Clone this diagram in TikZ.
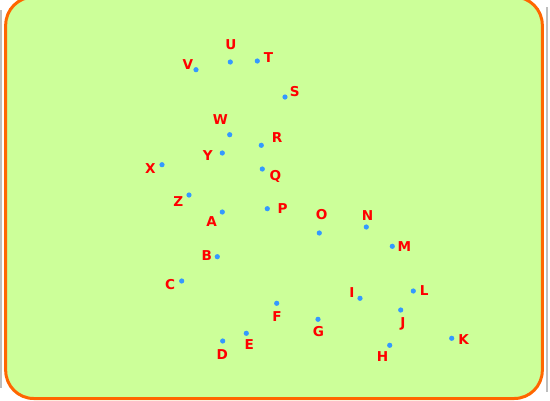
\documentclass[tikz,border=0pt]{standalone}
\usepackage{fontspec}
\setmainfont{DejaVu Sans}
\usepackage{tikz}
\definecolor{boxfill}{RGB}{204,255,153}
\definecolor{boxline}{RGB}{255,102,0}
\definecolor{dotblue}{RGB}{51,153,255}
\definecolor{edgegray}{RGB}{190,190,190}
\tikzset{
	dot/.style={circle, fill=dotblue, inner sep=0pt, minimum size=5.2pt},
	lbl/.style={text=red, font=\fontsize{13.6}{14}\selectfont\bfseries, inner sep=0pt, text height=10pt, text depth=0pt},
	frame/.style={draw=boxline, line width=3pt, fill=boxfill, rounded corners=28pt}
}
\begin{document}
\begin{tikzpicture}[x=1pt, y=-1pt]
		\useasboundingbox (0,0) rectangle (550,400);
		
		% Window edges and frame
		\draw[edgegray, line width=1.5pt] (1,10) -- (1,388);
		\draw[edgegray, line width=1.5pt] (547,7) -- (547,392);
		\draw[frame] (5.7,-3) rectangle (542.3,398.5);
		
		% Upper group
		\node[dot] (U) at (230.3,62) {};
		\node[lbl] (U-txt) at (231,44.3) {U};
		\node[dot] (T) at (257.3,61) {};
		\node[lbl] (T-txt) at (268.5,57.7) {T};
		\node[dot] (V) at (196,69.7) {};
		\node[lbl] (V-txt) at (188,64.7) {V};
		\node[dot] (S) at (285,97) {};
		\node[lbl] (S-txt) at (294.7,91.7) {S};
		\node[dot] (W) at (229.7,134.7) {};
		\node[lbl] (W-txt) at (220.3,119.3) {W};
		\node[dot] (R) at (261.3,145.3) {};
		\node[lbl] (R-txt) at (277,137.7) {R};
		\node[dot] (Y) at (222.3,153) {};
		\node[lbl] (Y-txt) at (207.7,155.7) {Y};
		\node[dot] (X) at (162,164.7) {};
		\node[lbl] (X-txt) at (150.3,168) {X};
		\node[dot] (Q) at (262.3,169) {};
		\node[lbl] (Q-txt) at (275.5,175) {Q};
		\node[dot] (Z) at (189,195) {};
		\node[lbl] (Z-txt) at (178.3,201) {Z};
		
		% Middle group
		\node[dot] (A) at (222.3,212) {};
		\node[lbl] (A-txt) at (211.7,221) {A};
		\node[dot] (P) at (267.3,208.7) {};
		\node[lbl] (P-txt) at (282.5,208.3) {P};
		\node[dot] (O) at (319.3,233) {};
		\node[lbl] (O-txt) at (321.7,214.3) {O};
		\node[dot] (N) at (366.3,227) {};
		\node[lbl] (N-txt) at (367.5,215.7) {N};
		\node[dot] (M) at (392.3,246.3) {};
		\node[lbl] (M-txt) at (404.5,246.7) {M};
		\node[dot] (B) at (217.3,256.7) {};
		\node[lbl] (B-txt) at (206.7,255) {B};
		\node[dot] (C) at (181.7,281) {};
		\node[lbl] (C-txt) at (170,284.2) {C};
		
		% Lower group
		\node[dot] (F) at (276.7,303.3) {};
		\node[lbl] (F-txt) at (277,316.7) {F};
		\node[dot] (I) at (360,298.3) {};
		\node[lbl] (I-txt) at (352,292) {I};
		\node[dot] (L) at (413.3,291) {};
		\node[lbl] (L-txt) at (424.2,290) {L};
		\node[dot] (J) at (400.7,310) {};
		\node[lbl] (J-txt) at (402.8,322) {J};
		\node[dot] (G) at (318,319.3) {};
		\node[lbl] (G-txt) at (318.5,331.7) {G};
		\node[dot] (E) at (246.3,333.3) {};
		\node[lbl] (E-txt) at (249.2,344.3) {E};
		\node[dot] (D) at (222.7,341) {};
		\node[lbl] (D-txt) at (222.3,354.3) {D};
		\node[dot] (H) at (389.7,345.3) {};
		\node[lbl] (H-txt) at (382.5,356.7) {H};
		\node[dot] (K) at (451.7,338.3) {};
		\node[lbl] (K-txt) at (463.7,339.3) {K};
		
	\end{tikzpicture}
\end{document}
